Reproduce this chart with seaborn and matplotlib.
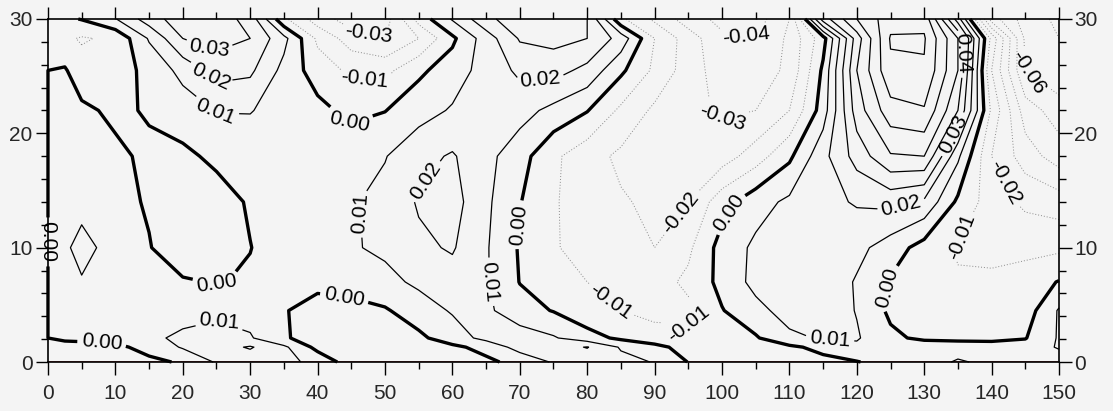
import numpy as np
import pandas as pd
from matplotlib import pyplot as plt
import seaborn as sns

# grid: x every 5 (plus 2.5 near the wall), uneven y levels
x = np.array([0, 2.5] + list(range(5, 151, 5)))
y = np.array([0, 1.3, 2.1, 4.5, 7, 10, 14, 18, 22, 25.5, 28.3, 30])

#        0       2.5     5       10      15      20      25      30      35      40      45      50      55      60      65      70      75      80      85      90      95      100     105     110     115     120     125     130     135     140     145     150
r_000 = [-0.002, -0.003, -0.004, -0.004, -0.002, 0.001, 0.011, 0.014, 0.013, 0.007, -0.005, -0.006, -0.006, -0.004, -0.002, 0.003, 0.011, 0.014, 0.013, 0.0095, -0.0003, -0.004, -0.006, -0.005, -0.003, -0.0005, 0.004, 0.006, 0.011, 0.008, 0.006, 0.004]
r_013 = [-0.001, -0.002, -0.003, -0.002, 0.003, 0.011, 0.016, 0.021, 0.012, -0.003, -0.005, -0.006, -0.004, -0.002, 0.003, 0.014, 0.016, 0.0205, 0.009, 0.003, -0.004, -0.006, -0.005, -0.002, 0.003, 0.008, 0.007, 0.006, 0.006, 0.005, 0.004, 0.011]
r_021 = [0.0, 0.001, 0.002, 0.003, 0.008, 0.012, 0.015, 0.011, 0.001, -0.004, -0.006, -0.006, -0.002, 0.005, 0.013, 0.015, 0.011, 0.004, -0.002, -0.006, -0.008, -0.008, -0.001, 0.008, 0.011, 0.011, 0.002, -0.002, -0.003, -0.003, -0.0005, 0.011]
r_045 = [0.0, 0.003, 0.005, 0.004, 0.004, 0.006, 0.007, 0.006, 0.001, -0.006, -0.004, -0.001, 0.005, 0.011, 0.012, 0.004, -0.0005, -0.007, -0.01, -0.013, -0.012, -0.0005, 0.007, 0.014, 0.016, 0.0095, -0.002, -0.006, -0.007, -0.006, -0.005, 0.011]
r_070 = [0.0, 0.005, 0.009, 0.004, 0.003, 0.001, -0.0005, 0.001, 0.003, 0.004, 0.005, 0.007, 0.012, 0.016, 0.011, -0.0003, -0.006, -0.01, -0.013, -0.014, -0.008, 0.003, 0.013, 0.016, 0.017, 0.009, -0.001, -0.008, -0.009, -0.008, -0.005, 0.0005]
r_100 = [0.0, 0.008, 0.014, 0.005, 0.0005, -0.006, -0.007, -0.0002, 0.004, 0.006, 0.009, 0.012, 0.018, 0.021, 0.011, -0.001, -0.009, -0.014, -0.017, -0.02, -0.012, 0.004, 0.012, 0.016, 0.017, 0.013, 0.005, -0.004, -0.011, -0.013, -0.013, -0.012]
r_140 = [0.0, 0.004, 0.006, 0.003, -0.001, -0.005, -0.004, 0.001, 0.005, 0.007, 0.009, 0.013, 0.021, 0.024, 0.012, 0.0005, -0.009, -0.015, -0.019, -0.022, -0.02, -0.004, 0.006, 0.012, 0.017, 0.021, 0.023, 0.018, -0.002, -0.015, -0.022, -0.025]
r_180 = [0.0, 0.002, 0.002, 0.002, -0.002, -0.002, 0.002, 0.004, 0.006, 0.007, 0.008, 0.0095, 0.017, 0.021, 0.013, 0.004, -0.008, -0.016, -0.022, -0.025, -0.027, -0.025, -0.015, -0.002, 0.017, 0.034, 0.049, 0.05, 0.012, -0.02, -0.035, -0.045]
r_220 = [0.0, 0.002, 0.002, -0.002, 0.001, 0.005, 0.0105, 0.0105, 0.006, 0.003, -0.003, -0.0003, 0.006, 0.011, 0.013, 0.014, 0.007, 0.0005, -0.012, -0.022, -0.028, -0.031, -0.03, -0.02, 0.005, 0.045, 0.066, 0.069, 0.04, -0.012, -0.045, -0.055]
r_255 = [0.0, 0.001, -0.006, -0.005, 0.003, 0.013, 0.024, 0.022, 0.007, -0.005, -0.012, -0.013, -0.002, 0.005, 0.014, 0.022, 0.024, 0.017, 0.002, -0.012, -0.025, -0.035, -0.035, -0.028, 0.002, 0.05, 0.078, 0.079, 0.05, -0.02, -0.06, -0.068]
r_283 = [-0.004, -0.008, -0.011, -0.008, 0.011, 0.03, 0.034, 0.03, 0.013, -0.012, -0.025, -0.03, -0.02, -0.002, 0.015, 0.031, 0.033, 0.03, 0.016, -0.01, -0.025, -0.038, -0.04, -0.028, -0.004, 0.045, 0.081, 0.081, 0.05, -0.013, -0.062, -0.07]
r_300 = [-0.004, -0.002, 0.0005, 0.0095, 0.025, 0.036, 0.036, 0.026, -0.008, -0.025, -0.035, -0.035, -0.006, 0.011, 0.027, 0.037, 0.036, 0.03, -0.008, -0.022, -0.035, -0.043, -0.045, -0.03, 0.035, 0.06, 0.076, 0.077, 0.025, -0.045, -0.065, -0.072]

field = pd.DataFrame([r_000, r_013, r_021, r_045, r_070, r_100, r_140,
                      r_180, r_220, r_255, r_283, r_300], index=y, columns=x)

levels = [-0.07, -0.06, -0.05, -0.04, -0.03, -0.02, -0.01,
          0.0, 0.01, 0.02, 0.03, 0.04, 0.05, 0.06, 0.07, 0.08]

# label spots, roughly where the original put them
label_spots = {
    0.0: [(44.5, 20.8), (25, 7), (44, 5.8), (8, 1.9), (0, 10.5),
          (70, 12), (104, 12), (125, 6.5)],
    0.01: [(25, 22), (46, 13), (65, 7), (116, 1.9), (25, 2.8)],
    0.02: [(25, 25.5), (73, 25.7), (58, 15), (127, 13)],
    0.03: [(25, 29), (134, 20)],
    0.04: [(135, 27)],
    -0.01: [(47, 25), (83, 5), (96, 3), (137, 10.5)],
    -0.02: [(94, 13), (143, 16)],
    -0.03: [(48, 29.5), (100, 21)],
    -0.04: [(104, 29.6)],
    -0.06: [(145, 25)],
}

sns.set_style("ticks")
plt.rcParams['font.family'] = ['Liberation Sans', 'DejaVu Sans']

bg = '#f4f4f4'
fig = plt.figure(figsize=(11.13, 4.11), dpi=100, facecolor=bg)
ax = fig.add_axes([0.0431, 0.1192, 0.9084, 0.8346], facecolor=bg)

X, Y = field.columns.values, field.index.values
Z = field.values

for lev in levels:
    if lev < 0:
        style = dict(colors='#8a8a8a', linewidths=0.7, linestyles=[(0, (1, 2))])
    elif lev == 0:
        style = dict(colors='black', linewidths=2.4)
    else:
        style = dict(colors='black', linewidths=0.9)
    cs = ax.contour(X, Y, Z, levels=[lev], **style)
    cs.set_clip_on(False)
    if lev in label_spots:
        texts = cs.clabel(manual=label_spots[lev], fmt='%.2f', fontsize=15,
                          colors='black', inline=True, inline_spacing=4)
        for t in texts:
            t.set_clip_on(False)
            t.set_zorder(6)

ax.axhline(0, color='#a03030', lw=1.2, zorder=1)

ax.set_xlim(0, 150)
ax.set_ylim(0, 30)
ax.set_xticks(np.arange(0, 151, 10))
ax.set_xticks(np.arange(5, 150, 10), minor=True)
ax.set_yticks([0, 10, 20, 30])
ax.set_yticks([t for t in range(2, 30, 2) if t % 10], minor=True)
ax.tick_params(which='both', direction='out', top=True, right=True,
               labelright=True, labelsize=15, width=1.0, color='black')
ax.tick_params(which='major', length=9)
ax.tick_params(which='minor', length=5)
ax.tick_params(axis='x', pad=7)
ax.tick_params(axis='y', pad=2)
for s in ax.spines.values():
    s.set_linewidth(1.2)
    s.set_color('black')

fig.savefig('out.png', dpi=100, facecolor=bg)
